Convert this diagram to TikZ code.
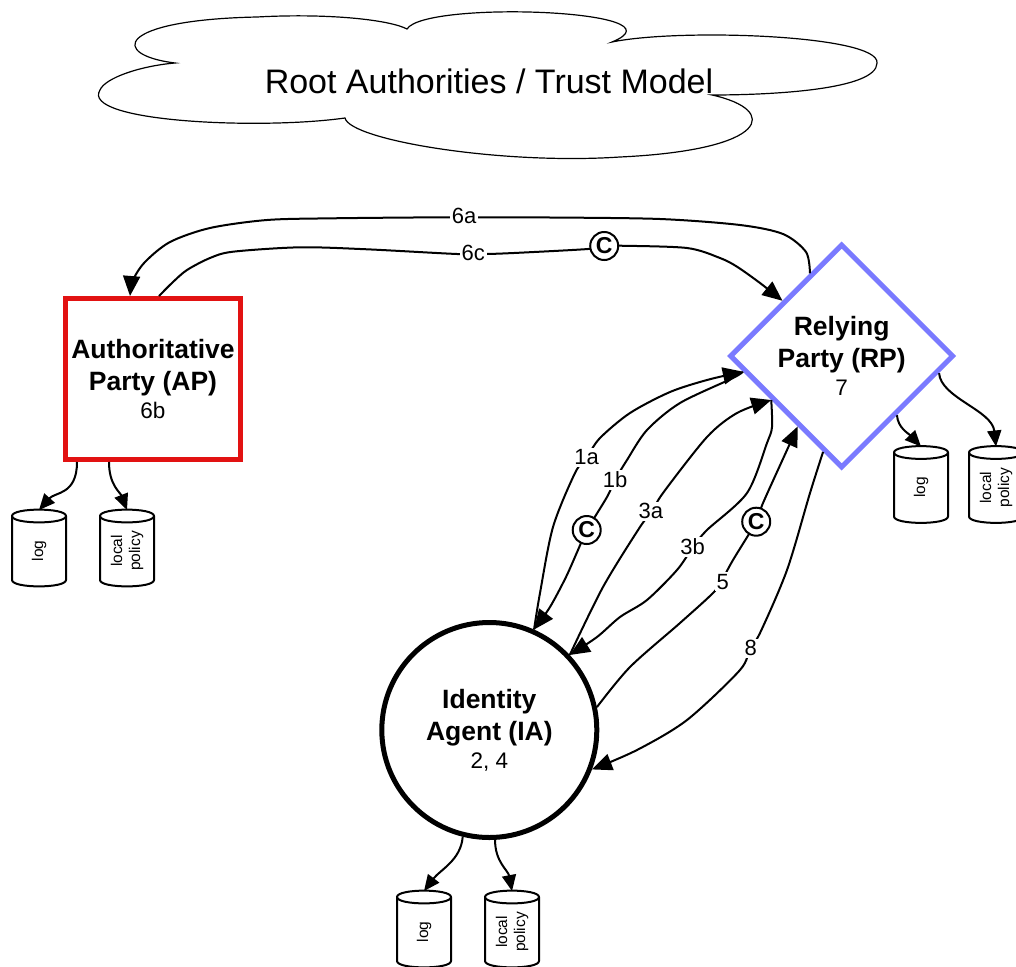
\documentclass[tikz,border=0pt]{standalone}
\usepackage{fontspec}
\setmainfont{Liberation Sans}
\usetikzlibrary{arrows.meta,shapes.geometric}
\definecolor{apred}{RGB}{226,18,18}
\definecolor{rpblue}{RGB}{122,122,255}
\tikzset{
  conn/.style={line width=2pt, line join=round},
  arrowend/.style={-{Triangle[length=20pt,width=17pt]}},
  smallarrow/.style={-{Triangle[length=16pt,width=14pt]}},
  edgelabel/.style={fill=white, inner sep=2pt, font=\fontsize{22}{22}\selectfont},
  claim/.style={circle, draw, fill=white, line width=2pt, minimum size=28pt,
    inner sep=0pt, font=\fontsize{23}{23}\selectfont\bfseries},
  party/.style={inner sep=0pt, line width=5pt, align=center,
    font=\fontsize{26.5}{32}\selectfont\bfseries},
  storeline/.style={line width=2pt, line join=round},
  datastore/.pic={
    \draw[storeline, fill=white] (-27,-32) -- (-27,32)
      .. controls (-27,40.5) and (27,40.5) .. (27,32) -- (27,-32)
      .. controls (27,-40.5) and (-27,-40.5) .. (-27,-32) -- cycle;
    \draw[storeline] (-27,-32) .. controls (-27,-23.5) and (27,-23.5) .. (27,-32);
    \node[rotate=90, align=center, inner sep=0pt,
      font=\fontsize{15.5}{18}\selectfont] (-text) at (0,3) {#1};
    \coordinate (-top) at (0,-38);
  }
}
\begin{document}
\begin{tikzpicture}[x=1pt,y=-1pt]
\useasboundingbox (0,0) rectangle (1016,966);

% trust cloud
\draw[line width=1.2pt] (175,63)
  .. controls (110,55) and (115,20) .. (257,17)
  .. controls (330,13) and (390,20) .. (407,29)
  .. controls (425,0) and (690,10) .. (612,42)
  .. controls (680,28) and (880,35) .. (877,63)
  .. controls (877,90) and (770,95) .. (712,95)
  .. controls (780,110) and (770,150) .. (620,157)
  .. controls (500,165) and (350,140) .. (345,118)
  .. controls (260,130) and (80,122) .. (100,90)
  .. controls (105,78) and (140,66) .. (175,63) -- cycle;
\node[font=\fontsize{34}{34}\selectfont, anchor=base, inner sep=0pt] (cloudtext)
  at (489,93) {Root Authorities / Trust Model};

% parties
\node[party, draw=apred, minimum width=175pt, minimum height=161pt] (ap) at (153,379)
  {Authoritative\\Party (AP)\\[-4pt]{\fontsize{22.5}{22.5}\selectfont\mdseries 6b}};
\node[party, diamond, aspect=1, draw=rpblue, minimum width=224pt, minimum height=224pt]
  (rp) at (841.7,356)
  {Relying\\Party (RP)\\[-4pt]{\fontsize{22.5}{22.5}\selectfont\mdseries 7}};
\node[party, circle, draw=black, minimum size=215pt] (ia) at (489.3,730)
  {Identity\\Agent (IA)\\[-4pt]{\fontsize{22.5}{22.5}\selectfont\mdseries 2, 4}};

% local stores
\pic (aplog) at (39,548) {datastore={log}};
\pic (appol) at (127,548) {datastore={local\\policy}};
\pic (rplog) at (921,484.5) {datastore={log}};
\pic (rppol) at (996,484.5) {datastore={local\\policy}};
\pic (ialog) at (424,929) {datastore={log}};
\pic (iapol) at (512,929) {datastore={local\\policy}};

\draw[conn, smallarrow] ([xshift=-76pt]ap.south) .. controls (77,495) and (55,492) .. (aplog-top);
\draw[conn, smallarrow] ([xshift=-44pt]ap.south) .. controls (109,485) and (120,492) .. (appol-top);
\draw[conn, smallarrow] (rp.313.8) .. controls (898,428) and (908,433) .. (rplog-top);
\draw[conn, smallarrow] (rp.350.2) .. controls (941,398) and (992,410) .. (rppol-top);
\draw[conn, smallarrow] (ia.-104.5) .. controls (461,860) and (440,870) .. (ialog-top);
\draw[conn, smallarrow] (ia.-87) .. controls (495,862) and (508,870) .. (iapol-top);

% 6a and 6c between AP and RP
\draw[conn, arrowend] plot[smooth, tension=0.5] coordinates {(rp.111.4) (806,252) (783,234)
  (740,225) (660,219) (550,217.5) (447,217.3) (333,218.3) (267,220) (210,228) (170,242)
  (145,262) (133,280) ([xshift=-23pt]ap.north)};
\draw[conn, arrowend] plot[smooth, tension=0.5] coordinates {([xshift=6pt]ap.north) (173,282)
  (187,270) (210,258) (233,251.7) (300,247.3) (367,249.3) (457,254) (487,254) (520,252.7)
  (588,249) (604,246) (620,245.7) (687,248) (720,258) (737,266.7) (760,283) (rp.137.8)};

% exchanges between IA and RP
\draw[conn, arrowend] plot[smooth, tension=0.5] coordinates {(ia.66) (540,593) (553,527)
  (575,473) (587,457) (600,438) (630,413) (670,392) (707,380) (rp.189)};
\draw[conn, arrowend] plot[smooth, tension=0.5] coordinates {(rp.189) (733,378) (680,403)
  (647,430) (627,460) (615,480) (607,497) (587,530) (578,550) (566,577) (550,607) (ia.66)};
\draw[conn, arrowend] plot[smooth, tension=0.5] coordinates {(ia.43) (603,587) (640,527)
  (652,511.7) (663,493) (707,437) (737,413) (rp.212)};
\draw[conn, arrowend] plot[smooth, tension=0.5] coordinates {(rp.212) (772,427) (767,443)
  (747,493) (707,530) (693,547) (677,570) (647,600) (620,617) (597,637) (ia.43)};
\draw[conn, arrowend] plot[smooth, tension=0.5] coordinates {(ia.12.6) (630,667) (680,623)
  (713,593) (722,580) (733,560) (756,522) (763,503) (787,450) (rp.238.2)};
\draw[conn, arrowend] plot[smooth, tension=0.5] coordinates {(rp.259.4) (810,493) (787,570)
  (760,633) (750,648) (740,670) (687,720) (637,750) (ia.-21.3)};

% labels and claim markers
\node[edgelabel] (l6a) at (464.2,216.2) {6a};
\node[edgelabel] (l6c) at (473.2,253.3) {6c};
\node[claim] (c6c) at (604.2,246) {C};
\node[edgelabel] (l1a) at (586.7,457.5) {1a};
\node[edgelabel] (l1b) at (615,480) {1b};
\node[claim] (c1b) at (586.7,530) {C};
\node[edgelabel] (l3a) at (650.8,511.3) {3a};
\node[edgelabel] (l3b) at (692.5,546.7) {3b};
\node[edgelabel] (l5) at (722.7,581.7) {5};
\node[claim] (c5) at (756.2,521.7) {C};
\node[edgelabel] (l8) at (750.7,648.3) {8};
\end{tikzpicture}
\end{document}
